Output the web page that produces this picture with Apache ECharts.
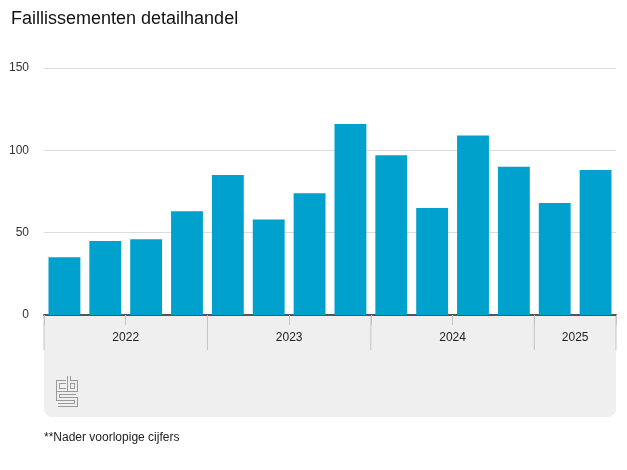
<!DOCTYPE html>
<html>
<head>
<meta charset="utf-8">
<script src="https://cdn.jsdelivr.net/npm/echarts@6/dist/echarts.min.js"></script>
<style>
html,body{margin:0;padding:0;background:#fff;}
#chart{width:627px;height:470px;}
</style>
</head>
<body>
<div id="chart"></div>
<script>
const quarters = ['2022 Q1','2022 Q2','2022 Q3','2022 Q4','2023 Q1','2023 Q2','2023 Q3','2023 Q4','2024 Q1','2024 Q2','2024 Q3','2024 Q4','2025 Q1','2025 Q2'];
const values = [35, 45, 46, 63, 85, 58, 74, 116, 97, 65, 109, 90, 68, 88];
const years = ['2022', '2023', '2024', '2025'];
const yearQuarterCounts = [4, 4, 4, 2];
const yTicks = [0, 50, 100, 150];

// year spans in quarter units
const yearSpans = [];
let acc = 0;
years.forEach((y, i) => { yearSpans.push([acc, acc + yearQuarterCounts[i], y]); acc += yearQuarterCounts[i]; });

const chart = echarts.init(document.getElementById('chart'));
const font = 'Arial, "Liberation Sans", sans-serif';

// cbs logo approximation
const logoPaths = [
  [[9,6],[1,6],[1,14],[9,14]],
  [[12,0],[12,14],[19,14],[19,6],[12,6]],
  [[19,17],[1,17],[1,23],[19,23],[19,29],[1,29]]
];
const lx = 57, ly = 376;
const logoGraphics = [];
logoPaths.forEach(p => {
  const pts = p.map(q => [lx + q[0], ly + q[1]]);
  logoGraphics.push({type:'polyline', shape:{points:pts}, style:{stroke:'#9a9a9a', lineWidth:4, fill:null, lineJoin:'miter'}, z:5});
  logoGraphics.push({type:'polyline', shape:{points:pts}, style:{stroke:'#efefef', lineWidth:2, fill:null, lineJoin:'miter'}, z:6});
});

chart.setOption({
  animation: false,
  title: {
    text: 'Faillissementen detailhandel',
    left: 6, top: 5,
    textStyle: {fontFamily: font, fontSize: 18, fontWeight: 'normal', color: '#111'}
  },
  graphic: [
    {type:'rect', shape:{x:44, y:316, width:572, height:101, r:[0,0,8,8]}, style:{fill:'#efefef'}, z:-10},
    {type:'text', left: 44, top: 432, style:{text:'**Nader voorlopige cijfers', font:'12px ' + font, fill:'#222'}}
  ].concat(logoGraphics),
  grid: [
    {left: 44, right: 11, top: 68, height: 247},
    {left: 44, right: 11, top: 316, height: 34}
  ],
  xAxis: [
    {
      type: 'category', data: quarters, gridIndex: 0,
      axisLine: {lineStyle: {color: '#555', width: 2}},
      axisTick: {show: true, length: 10, lineStyle: {color: '#c4c4c4'}},
      axisLabel: {show: false}
    },
    {type: 'value', gridIndex: 1, min: 0, max: quarters.length, show: false}
  ],
  yAxis: [
    {
      type: 'value', gridIndex: 0, min: 0, max: 150, interval: 50,
      axisLine: {show: false}, axisTick: {show: false},
      axisLabel: {margin: 15, fontFamily: font, fontSize: 12, color: '#333', padding: [4, 0, 0, 0]},
      splitLine: {lineStyle: {color: '#dcdcdc'}}
    },
    {type: 'value', gridIndex: 1, min: 0, max: 1, show: false}
  ],
  series: [
    {
      type: 'bar', data: values, xAxisIndex: 0, yAxisIndex: 0,
      barCategoryGap: '22%',
      itemStyle: {color: '#00a1cd'}
    },
    {
      type: 'custom', xAxisIndex: 1, yAxisIndex: 1,
      data: yearSpans,
      clip: false,
      renderItem: function (params, api) {
        const s = api.value(0), e = api.value(1);
        const top = api.coord([s, 1]);
        const bot = api.coord([s, 0]);
        const mid = api.coord([(s + e) / 2, 0.5]);
        const children = [
          {type: 'line', shape: {x1: top[0], y1: top[1], x2: bot[0], y2: bot[1]}, style: {stroke: '#c4c4c4', lineWidth: 1}},
          {type: 'text', style: {text: yearSpans[params.dataIndex][2], x: mid[0], y: mid[1] + 5, align: 'center', verticalAlign: 'middle', font: '12px ' + font, fill: '#222'}}
        ];
        if (params.dataIndex === yearSpans.length - 1) {
          const t2 = api.coord([e, 1]), b2 = api.coord([e, 0]);
          children.push({type: 'line', shape: {x1: t2[0], y1: t2[1], x2: b2[0], y2: b2[1]}, style: {stroke: '#c4c4c4', lineWidth: 1}});
        }
        return {type: 'group', children: children};
      }
    }
  ]
});
</script>
</body>
</html>
